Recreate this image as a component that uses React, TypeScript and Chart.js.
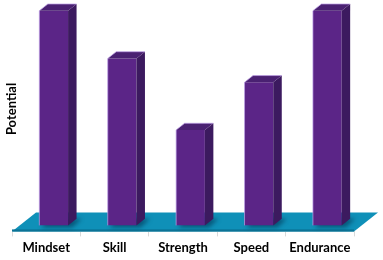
import React, { useEffect, useRef } from "react";
import { Chart, registerables } from "chart.js";

Chart.register(...registerables);

const categories = ["Mindset", "Skill", "Strength", "Speed", "Endurance"];
const potential = [9, 7, 4, 6, 9];
const yAxisTitle = "Potential";

const FRONT = "#5b2587";
const SIDE = "#3c1a5f";
const TOP = "#4a2172";
const EDGE = "rgba(190,160,230,0.9)";
const FLOOR = "#0f90b8";
const FLOOR_EDGE = "#0b7396";

const BAR_DX = 8.5;
const BAR_DY = -6.7;
const FLOOR_DX = 24;
const FLOOR_DY = -19;
const SHIFT_X = 7.5;
const SHIFT_Y = -6;

const threeD = {
  id: "threeD",
  beforeDatasetsDraw(chart: any) {
    const { ctx, chartArea } = chart;
    const l = chartArea.left;
    const r = chartArea.right;
    const b = chartArea.bottom;
    ctx.save();
    ctx.fillStyle = FLOOR;
    ctx.beginPath();
    ctx.moveTo(l, b);
    ctx.lineTo(r, b);
    ctx.lineTo(r + FLOOR_DX, b + FLOOR_DY);
    ctx.lineTo(l + FLOOR_DX, b + FLOOR_DY);
    ctx.closePath();
    ctx.fill();
    ctx.fillStyle = FLOOR_EDGE;
    ctx.fillRect(l, b - 2, r - l, 2);
    const meta = chart.getDatasetMeta(0);
    ctx.filter = "blur(2px)";
    ctx.fillStyle = "rgba(0,40,70,0.55)";
    meta.data.forEach((el: any) => {
      const p = el.getProps(["x", "base", "width"], true);
      const left = p.x - p.width / 2 + SHIFT_X;
      const right = p.x + p.width / 2 + SHIFT_X;
      const base = p.base + SHIFT_Y;
      ctx.beginPath();
      ctx.moveTo(left + 2, base + 2);
      ctx.lineTo(right + 4, base + 2);
      ctx.lineTo(right + BAR_DX + 5, base + BAR_DY);
      ctx.lineTo(left + BAR_DX, base + BAR_DY);
      ctx.closePath();
      ctx.fill();
    });
    ctx.filter = "none";
    ctx.restore();
    ctx.save();
    ctx.translate(SHIFT_X, SHIFT_Y);
  },
  afterDatasetsDraw(chart: any) {
    const { ctx } = chart;
    const meta = chart.getDatasetMeta(0);
    meta.data.forEach((el: any) => {
      const p = el.getProps(["x", "y", "base", "width"], true);
      const left = p.x - p.width / 2;
      const right = p.x + p.width / 2;
      const top = p.y;
      const base = p.base;
      ctx.fillStyle = SIDE;
      ctx.beginPath();
      ctx.moveTo(right, top);
      ctx.lineTo(right + BAR_DX, top + BAR_DY);
      ctx.lineTo(right + BAR_DX, base + BAR_DY);
      ctx.lineTo(right, base);
      ctx.closePath();
      ctx.fill();
      ctx.fillStyle = TOP;
      ctx.beginPath();
      ctx.moveTo(left, top);
      ctx.lineTo(left + BAR_DX, top + BAR_DY);
      ctx.lineTo(right + BAR_DX, top + BAR_DY);
      ctx.lineTo(right, top);
      ctx.closePath();
      ctx.fill();
      ctx.strokeStyle = EDGE;
      ctx.lineWidth = 0.8;
      ctx.beginPath();
      ctx.moveTo(left, base);
      ctx.lineTo(left, top);
      ctx.lineTo(left + BAR_DX, top + BAR_DY);
      ctx.lineTo(right + BAR_DX, top + BAR_DY);
      ctx.stroke();
    });
    ctx.restore();
    ctx.save();
    ctx.translate(11.5, 109);
    ctx.rotate(-Math.PI / 2);
    ctx.fillStyle = "#000";
    ctx.font = "bold 13px Lato";
    ctx.textAlign = "center";
    ctx.textBaseline = "middle";
    ctx.fillText(yAxisTitle, 0, 0);
    ctx.restore();
  },
};

export default function App() {
  const ref = useRef<HTMLCanvasElement>(null);
  useEffect(() => {
    document.body.style.margin = "0";
    const chart = new Chart(ref.current!, {
      type: "bar",
      data: {
        labels: categories,
        datasets: [
          {
            data: potential,
            backgroundColor: FRONT,
            borderWidth: 0,
            categoryPercentage: 1,
            barPercentage: 0.42,
          },
        ],
      },
      options: {
        animation: false,
        responsive: false,
        layout: { padding: { left: 12, right: 29, top: 0, bottom: 0 } },
        plugins: { legend: { display: false }, tooltip: { enabled: false } },
        scales: {
          x: {
            grid: {
              offset: true,
              drawOnChartArea: false,
              drawTicks: true,
              tickLength: 5,
              color: "#d9d9d9",
            },
            border: { display: true, color: "#d9d9d9" },
            ticks: {
              color: "#000",
              padding: 4,
              font: { family: "Lato", weight: "bold", size: 13 },
            },
          },
          y: {
            display: false,
            min: 0,
            max: 9.7,
          },
        },
      },
      plugins: [threeD],
    });
    return () => chart.destroy();
  }, []);
  return (
    <div style={{ position: "absolute", left: 0, top: 0, width: 383, height: 260 }}>
      <canvas ref={ref} width={383} height={260} />
    </div>
  );
}
